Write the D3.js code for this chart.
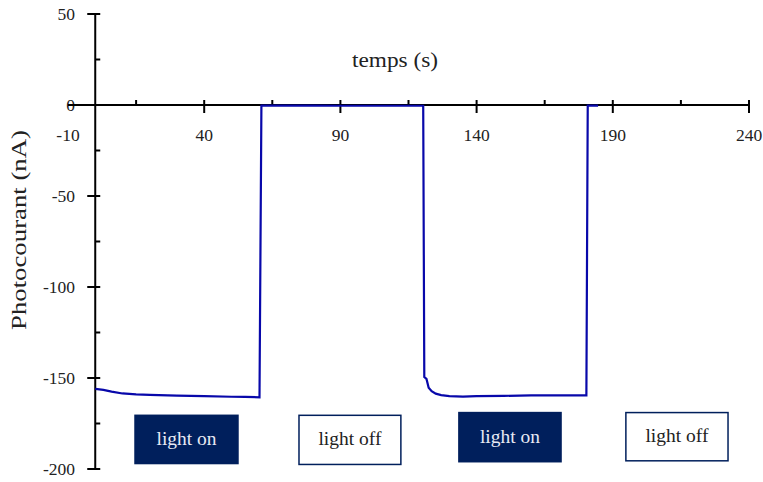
<!DOCTYPE html>
<html><head><meta charset="utf-8">
<script src="https://cdn.jsdelivr.net/npm/d3@7"></script>
<style>body{margin:0;background:#fff}svg{display:block}text{font-family:"Liberation Serif","DejaVu Serif",serif}</style>
</head><body><svg id="c" width="763" height="482"></svg>
<script>
const times  = [0,3,6,10,15,20,30,40,50,55,60.3,61,70,80,90,100,110,120.4,120.8,121.6,122.4,123.5,125,127,130,135,140,150,160,170,180.3,180.8,184.6];
const values = [-156,-156.5,-157.5,-158.5,-159,-159.3,-159.7,-160,-160.3,-160.4,-160.6,-0.3,-0.3,-0.3,-0.4,-0.4,-0.4,-0.4,-149.5,-150.5,-155.3,-157.2,-158.6,-159.4,-160,-160.2,-160,-159.8,-159.6,-159.5,-159.6,-0.3,-0.3];
const xMajor = [-10,40,90,140,190,240];
const xMinor = [15,65,115,165,215];
const yMajor = [50,0,-50,-100,-150,-200];
const yMinor = [25,-25,-75,-125,-175];
const boxes = [
  {label:"light on", t0:14.6, t1:52.4, v0:-170.5, v1:-197, filled:true},
  {label:"light off", t0:74.8, t1:112.2, v0:-170.5, v1:-197.5, filled:false},
  {label:"light on", t0:133.5, t1:171, v0:-169, v1:-196, filled:true},
  {label:"light off", t0:194.8, t1:232.3, v0:-169, v1:-195.5, filled:false}
];

const svg = d3.select("#c");
const x = d3.scaleLinear().domain([-10,240]).range([68,749]);
const y = d3.scaleLinear().domain([-200,50]).range([469,14]);
const navy = "#001f5c";
const ink = "#222";

// y axis
const ya = svg.append("g");
ya.append("line").attr("x1",x(0)).attr("x2",x(0)).attr("y1",y(50)).attr("y2",y(-200)).attr("stroke","#000").attr("stroke-width",2);
yMajor.forEach(v=>{
  ya.append("line").attr("x1",x(0)-8).attr("x2",x(0)+5).attr("y1",y(v)).attr("y2",y(v)).attr("stroke","#000").attr("stroke-width",2);
  ya.append("text").attr("x",75).attr("y",y(v)+6).attr("text-anchor","end").attr("font-size",17.5).attr("fill",ink).text(v);
});
yMinor.forEach(v=>{
  ya.append("line").attr("x1",x(0)).attr("x2",x(0)+5).attr("y1",y(v)).attr("y2",y(v)).attr("stroke","#000").attr("stroke-width",2);
});

// x axis
const xa = svg.append("g");
xa.append("line").attr("x1",x(-10)).attr("x2",x(240)).attr("y1",y(0)).attr("y2",y(0)).attr("stroke","#000").attr("stroke-width",2);
xMajor.forEach(v=>{
  if(v!==-10) xa.append("line").attr("x1",x(v)).attr("x2",x(v)).attr("y1",y(0)-5).attr("y2",y(0)+8).attr("stroke","#000").attr("stroke-width",2);
  xa.append("text").attr("x",x(v)).attr("y",y(0)+36).attr("text-anchor","middle").attr("font-size",17.5).attr("fill",ink).text(v);
});
xMinor.forEach(v=>{
  xa.append("line").attr("x1",x(v)).attr("x2",x(v)).attr("y1",y(0)-5).attr("y2",y(0)).attr("stroke","#000").attr("stroke-width",2);
});

// titles
svg.append("text").attr("x",395).attr("y",67).attr("text-anchor","middle").attr("font-size",20)
  .attr("textLength",86).attr("lengthAdjust","spacingAndGlyphs").attr("fill",ink).text("temps (s)");
svg.append("text").attr("transform","translate(26,230) rotate(-90)").attr("text-anchor","middle").attr("font-size",20)
  .attr("textLength",200).attr("lengthAdjust","spacingAndGlyphs").attr("fill",ink).text("Photocourant (nA)");

// line
const line = d3.line().x((d,i)=>x(times[i])).y(d=>y(d));
svg.append("path").datum(values).attr("d",line).attr("fill","none").attr("stroke","#0808aa").attr("stroke-width",2.2);

// boxes
boxes.forEach(b=>{
  const g = svg.append("g");
  g.append("rect").attr("x",x(b.t0)).attr("y",y(b.v0)).attr("width",x(b.t1)-x(b.t0)).attr("height",y(b.v1)-y(b.v0))
    .attr("fill",b.filled?navy:"#fff").attr("stroke",navy).attr("stroke-width",1.5);
  g.append("text").attr("x",(x(b.t0)+x(b.t1))/2).attr("y",(y(b.v0)+y(b.v1))/2+5.5).attr("text-anchor","middle")
    .attr("font-size",18).attr("textLength",b.filled?60:63).attr("lengthAdjust","spacingAndGlyphs")
    .attr("fill",b.filled?"#e8eaf4":ink).text(b.label);
});
</script></body></html>
